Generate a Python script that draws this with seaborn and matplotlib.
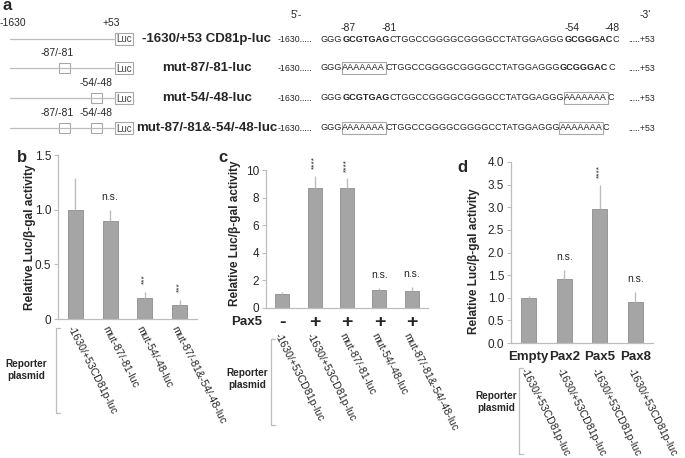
import numpy as np
import pandas as pd
import seaborn as sns
import matplotlib.pyplot as plt
from matplotlib.patches import Rectangle
from matplotlib.transforms import offset_copy

# ---- data ----
# panel a: constructs and sequences
construct_names = ["-1630/+53 CD81p-luc", "mut-87/-81-luc", "mut-54/-48-luc", "mut-87/-81&-54/-48-luc"]
construct_mut_sites = [[], ["-87/-81"], ["-54/-48"], ["-87/-81", "-54/-48"]]
seq_rows = [
    [("GGG", "normal", False), ("GCGTGAG", "bold", False), ("CTGGCCGGGGCGGGGCCTATGGAGGG", "normal", False),
     ("GCGGGAC", "bold", False), ("C", "normal", False)],
    [("GGG", "normal", False), ("AAAAAAA", "normal", True), ("CTGGCCGGGGCGGGGCCTATGGAGGG", "normal", False),
     ("GCGGGAC", "bold", False), ("C", "normal", False)],
    [("GGG", "normal", False), ("GCGTGAG", "bold", False), ("CTGGCCGGGGCGGGGCCTATGGAGGG", "normal", False),
     ("AAAAAAA", "normal", True), ("C", "normal", False)],
    [("GGG", "normal", False), ("AAAAAAA", "normal", True), ("CTGGCCGGGGCGGGGCCTATGGAGGG", "normal", False),
     ("AAAAAAA", "normal", True), ("C", "normal", False)],
]
site_marks = ["-87", "-81", "-54", "-48"]

# panel b
b_labels = ["-1630/+53CD81p-luc", "mut-87/-81-luc", "mut-54/-48-luc", "mut-87/-81&-54/-48-luc"]
b_mean = [1.0, 0.9, 0.19, 0.13]
b_err = [0.29, 0.10, 0.055, 0.04]
b_marks = ["", "n.s.", "***", "***"]

# panel c
c_labels = ["-1630/+53CD81p-luc", "-1630/+53CD81p-luc", "mut-87/-81-luc", "mut-54/-48-luc", "mut-87/-81&-54/-48-luc"]
c_pax5 = ["-", "+", "+", "+", "+"]
c_mean = [1.0, 8.7, 8.7, 1.3, 1.2]
c_err = [0.15, 0.9, 0.7, 0.15, 0.3]
c_marks = ["", "****", "****", "n.s.", "n.s."]

# panel d
d_groups = ["Empty", "Pax2", "Pax5", "Pax8"]
d_labels = ["-1630/+53CD81p-luc"] * 4
d_mean = [1.0, 1.42, 2.97, 0.9]
d_err = [0.04, 0.2, 0.53, 0.22]
d_marks = ["", "n.s.", "****", "n.s."]

sns.set_style("white")
plt.rcParams["font.family"] = ["Liberation Sans", "DejaVu Sans"]
plt.rcParams["axes.unicode_minus"] = False

W, H = 685, 458
BAR = "#a5a5a5"
EDGE = "#8e8e8e"
LIGHT = "#bdbdbd"

fig = plt.figure(figsize=(W / 100, H / 100), dpi=100)

# overlay in pixel coordinates for panel a, brackets and side labels
ov = fig.add_axes([0, 0, 1, 1])
ov.set_xlim(0, W)
ov.set_ylim(H, 0)
ov.axis("off")


def px_axes(l, t, r, b):
    return fig.add_axes([l / W, 1 - b / H, (r - l) / W, (b - t) / H])


# ---- panel a ----
ov.text(3, 6, "a", fontsize=12, fontweight="bold", va="center", ha="left")
ov.text(0, 23, "-1630", fontsize=7.5, va="center", ha="left")
ov.text(111, 23, "+53", fontsize=7.5, va="center", ha="center")
ov.text(296, 15, "5'-", fontsize=7.5, va="center", ha="center")
ov.text(645, 15, "-3'", fontsize=7.5, va="center", ha="center")
for xs, s in zip([348, 389, 572, 612], site_marks):
    ov.text(xs, 28, s, fontsize=7.5, va="center", ha="center")

row_y = [39, 68, 98, 128]
site_x = {"-87/-81": 65, "-54/-48": 96.5}
label_x = {"-87/-81": 57, "-54/-48": 96}
renderer = fig.canvas.get_renderer()

for y, name, sites, segs in zip(row_y, construct_names, construct_mut_sites, seq_rows):
    ov.plot([10, 115], [y, y], color=LIGHT, lw=0.9)
    ov.add_patch(Rectangle((115, y - 6), 18, 12, fill=True, facecolor="white", edgecolor="#a8a8a8", lw=0.8))
    ov.text(124, y + 0.5, "Luc", fontsize=7, va="center", ha="center", color="#444444")
    for s in sites:
        ov.add_patch(Rectangle((site_x[s] - 5.5, y - 5), 11, 10, facecolor="white", edgecolor="#a8a8a8", lw=0.8))
        ov.text(label_x[s], y - 15, s, fontsize=7.5, va="center", ha="center")
    ov.text(207, y, name, fontsize=9.5, fontweight="bold", va="center", ha="center")
    # sequence
    ov.text(278, y + 0.5, "-1630.....", fontsize=6.3, va="center", ha="left")
    x = 321
    for txt, wt, boxed in segs:
        t = ov.text(x, y, txt, fontsize=6.6, fontweight=wt, va="center", ha="left")
        bb = t.get_window_extent(renderer)
        if boxed:
            ov.add_patch(Rectangle((x - 0.5, y - 6), bb.width + 1, 12, fill=False, edgecolor="#a8a8a8", lw=0.8))
        x += bb.width
    ov.text(655, y + 0.5, ".....+53", fontsize=6.3, va="center", ha="right")


# ---- bar panels ----
def bar_panel(ax, xcats, mean, err, marks, ylim, yticks, yticklabels, width):
    sns.barplot(x=xcats, y=mean, order=xcats, color=BAR, saturation=1, width=width,
                edgecolor=EDGE, linewidth=0.6, errorbar=None, ax=ax)
    ax.errorbar(np.arange(len(mean)), mean, yerr=[np.zeros(len(err)), err], fmt="none",
                ecolor=LIGHT, elinewidth=1, capsize=0, zorder=1)
    ax.set_xlim(-0.5, len(mean) - 0.5)
    ax.set_ylim(*ylim)
    ax.set_yticks(yticks)
    ax.set_yticklabels(yticklabels)
    ax.set_facecolor("none")
    for sp in ["top", "right"]:
        ax.spines[sp].set_visible(False)
    for sp in ["left", "bottom"]:
        ax.spines[sp].set_color(LIGHT)
        ax.spines[sp].set_linewidth(0.9)
    ax.tick_params(axis="y", labelsize=8.5, length=3, color=LIGHT, pad=2, direction="out", left=True)
    ax.tick_params(axis="x", length=0)
    ax.set_ylabel("Relative Luc/β-gal activity", fontsize=8.5, fontweight="bold")
    for i, (m, e, mk) in enumerate(zip(mean, err, marks)):
        if not mk:
            continue
        tr = offset_copy(ax.transData, fig=fig, x=0, y=13, units="dots")
        if mk.startswith("*"):
            ax.text(i, m + e, mk, transform=tr, rotation=90, fontsize=6, ha="center", va="center")
        else:
            ax.text(i, m + e, mk, transform=tr, fontsize=7.5, ha="center", va="center")


def reporter_labels(ax, labels, y_off_px, fs=7.6):
    for i, lab in enumerate(labels):
        tr = offset_copy(ax.get_xaxis_transform(), fig=fig, x=-1, y=-y_off_px, units="dots")
        ax.text(i, 0, lab, transform=tr, rotation=-63, rotation_mode="anchor",
                ha="left", va="top", fontsize=fs, clip_on=False)


def bracket(x, y0, y1, tx, ty):
    ov.plot([x + 4, x, x, x + 4], [y0, y0, y1, y1], color=LIGHT, lw=0.9)
    ov.text(tx, ty, "Reporter\nplasmid", fontsize=7.2, fontweight="bold", ha="center", va="center",
            linespacing=1.25)


# panel b
axb = px_axes(58, 155, 197, 319)
bar_panel(axb, [str(i) for i in range(len(b_mean))], b_mean, b_err, b_marks, (0, 1.5),
          [0, 0.5, 1.0, 1.5], ["0", "0.5", "1.0", "1.5"], 0.43)
axb.set_xticks(np.arange(len(b_mean) - 1) + 0.5, minor=True)
axb.tick_params(axis="x", which="minor", length=3, color=LIGHT)
axb.set_xticklabels([])
axb.yaxis.set_label_coords(-0.16, 0.5)
reporter_labels(axb, b_labels, 5)
ov.text(22, 158, "b", fontsize=12, fontweight="bold", ha="center", va="center")
bracket(56, 328, 413, 26, 370)

# panel c
axc = px_axes(266, 170, 428, 308)
bar_panel(axc, [str(i) for i in range(len(c_mean))], c_mean, c_err, c_marks, (0, 10),
          [0, 2, 4, 6, 8, 10], ["0", "2", "4", "6", "8", "10"], 0.43)
axc.set_xticklabels(c_pax5, fontsize=14, fontweight="bold")
axc.tick_params(axis="x", pad=4)
axc.yaxis.set_label_coords(-0.155, 0.54)
ov.text(247, 322, "Pax5", fontsize=9.5, fontweight="bold", ha="center", va="center")
reporter_labels(axc, c_labels, 23)
ov.text(223, 158, "c", fontsize=12, fontweight="bold", ha="center", va="center")
bracket(271, 339, 425, 247, 379)

# panel d
axd = px_axes(511, 162, 653, 343)
bar_panel(axd, d_groups, d_mean, d_err, d_marks, (0, 4),
          np.arange(0, 4.01, 0.5), [f"{v:.1f}" for v in np.arange(0, 4.01, 0.5)], 0.42)
axd.set_xticklabels(d_groups, fontsize=9.5, fontweight="bold")
axd.tick_params(axis="x", pad=6)
axd.yaxis.set_label_coords(-0.22, 0.45)
reporter_labels(axd, d_labels, 23)
ov.text(462, 168, "d", fontsize=12, fontweight="bold", ha="center", va="center")
bracket(519, 368, 454, 496, 402)

fig.savefig("out.png", dpi=100)
